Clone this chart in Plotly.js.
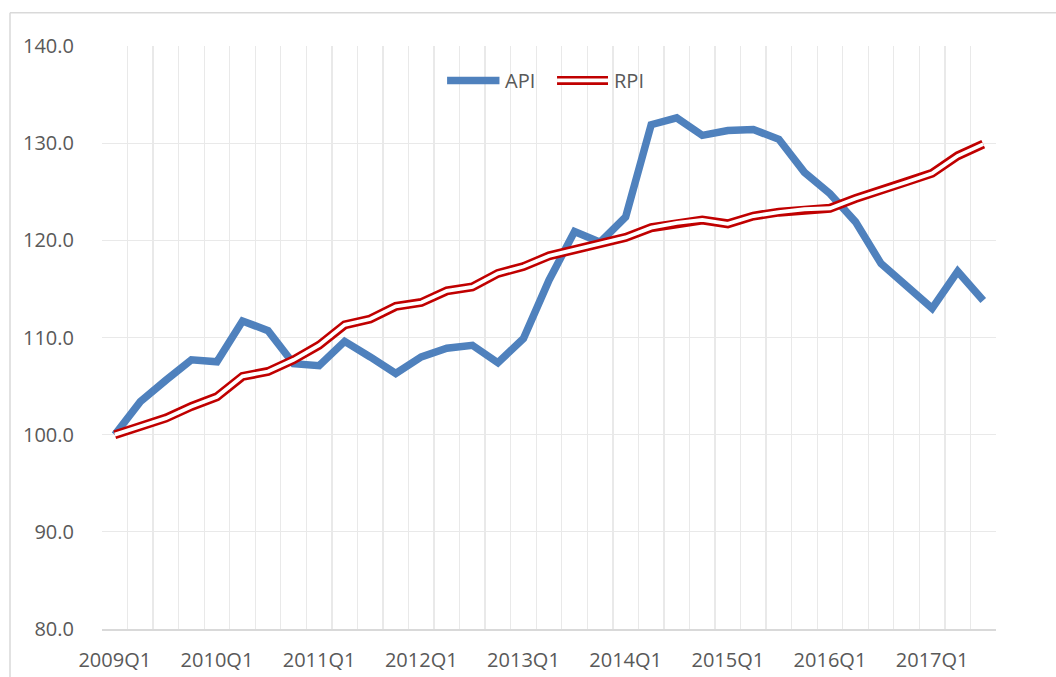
<!DOCTYPE html>
<html>
<head>
<meta charset="utf-8">
<script src="https://cdn.plot.ly/plotly-3.0.1.min.js"></script>
<style>
  html, body { margin: 0; padding: 0; background: #ffffff; }
  #chart { width: 1056px; height: 677px; }
</style>
</head>
<body>
<div id="chart"></div>
<script>
// ---- data ----
const quarters = [
  "2009Q1","2009Q2","2009Q3","2009Q4",
  "2010Q1","2010Q2","2010Q3","2010Q4",
  "2011Q1","2011Q2","2011Q3","2011Q4",
  "2012Q1","2012Q2","2012Q3","2012Q4",
  "2013Q1","2013Q2","2013Q3","2013Q4",
  "2014Q1","2014Q2","2014Q3","2014Q4",
  "2015Q1","2015Q2","2015Q3","2015Q4",
  "2016Q1","2016Q2","2016Q3","2016Q4",
  "2017Q1","2017Q2","2017Q3"
];
const api = [100.0, 103.4, 105.6, 107.7, 107.5, 111.7, 110.7, 107.3, 107.1, 109.6,
             108.0, 106.3, 108.0, 108.9, 109.2, 107.4, 109.9, 115.9, 120.9, 119.8,
             122.4, 131.9, 132.6, 130.8, 131.3, 131.4, 130.4, 127.0, 124.8, 121.9,
             117.6, 115.4, 113.0, 116.8, 113.8];
const rpi = [100.0, 100.8, 101.7, 102.9, 103.9, 106.0, 106.5, 107.7, 109.2, 111.3,
             111.9, 113.2, 113.6, 114.8, 115.2, 116.6, 117.3, 118.4, 119.0, 119.6,
             120.3, 121.3, 121.8, 122.1, 121.7, 122.5, 122.9, 123.2, 123.3, 124.3,
             125.1, 126.0, 126.9, 128.7, 129.9];
const seriesNames = ["API", "RPI"];
const yTicks = [80, 90, 100, 110, 120, 130, 140];

// ---- derived ----
const xIdx = quarters.map((q, i) => i);
const labelIdx = xIdx.filter(i => quarters[i].endsWith("Q1"));
const labelText = labelIdx.map(i => quarters[i]);

const BLUE = "#4F81BD", RED = "#C00000", TXT = "#595959";
const FONT = "Open Sans, Liberation Sans, sans-serif";
const RED_W = 9, GAP_W = 3.8;

const traces = [
  { x: xIdx, y: api, name: seriesNames[0], type: "scatter", mode: "lines",
    line: { color: BLUE, width: 7.5 }, showlegend: false },
  { x: xIdx, y: rpi, name: seriesNames[1], type: "scatter", mode: "lines",
    line: { color: RED, width: RED_W }, showlegend: false },
  { x: xIdx, y: rpi, name: seriesNames[1] + " (inner)", type: "scatter", mode: "lines",
    line: { color: "#ffffff", width: GAP_W }, showlegend: false, hoverinfo: "skip" }
];

// manual legend (paper coords)
const legY = 0.941;
const shapes = [
  // chart area border (left & top)
  { type: "line", xref: "paper", yref: "paper", x0: -0.1029, x1: -0.1029, y0: -0.2, y1: 1.057,
    line: { color: "#d9d9d9", width: 1.5 } },
  { type: "line", xref: "paper", yref: "paper", x0: -0.1029, x1: 1.2, y0: 1.057, y1: 1.057,
    line: { color: "#d9d9d9", width: 1.5 } },
  // legend symbols
  { type: "line", xref: "paper", yref: "paper", x0: 0.386, x1: 0.4446, y0: legY, y1: legY,
    line: { color: BLUE, width: 7.5 } },
  { type: "line", xref: "paper", yref: "paper", x0: 0.509, x1: 0.566, y0: legY, y1: legY,
    line: { color: RED, width: RED_W } },
  { type: "line", xref: "paper", yref: "paper", x0: 0.509, x1: 0.566, y0: legY, y1: legY,
    line: { color: "#ffffff", width: GAP_W } }
];
const annotations = [
  { xref: "paper", yref: "paper", x: 0.449, y: legY, xanchor: "left", yanchor: "middle",
    text: seriesNames[0], showarrow: false, font: { family: FONT, size: 20, color: TXT } },
  { xref: "paper", yref: "paper", x: 0.571, y: legY, xanchor: "left", yanchor: "middle",
    text: seriesNames[1], showarrow: false, font: { family: FONT, size: 20, color: TXT } }
];

const layout = {
  width: 1056, height: 677,
  margin: { l: 102, r: 60, t: 46, b: 48 },
  paper_bgcolor: "#ffffff", plot_bgcolor: "#ffffff",
  font: { family: FONT, size: 20, color: TXT },
  showlegend: false,
  xaxis: {
    type: "linear",
    range: [-0.5, quarters.length - 0.5],
    tickmode: "array", tickvals: labelIdx, ticktext: labelText,
    showgrid: false, zeroline: false,
    showline: true, linecolor: "#d9d9d9", linewidth: 1.5,
    ticks: "", ticklabelstandoff: 12,
    tickfont: { family: FONT, size: 20, color: TXT },
    minor: { tickmode: "linear", tick0: -0.5, dtick: 1, showgrid: true,
             gridcolor: "#e9e9e9", gridwidth: 1.3, ticks: "" }
  },
  yaxis: {
    range: [80, 140],
    tickmode: "array", tickvals: yTicks, ticktext: yTicks.map(v => v.toFixed(1)),
    showgrid: true, gridcolor: "#e9e9e9", gridwidth: 1.3,
    zeroline: false, showline: false, ticks: "", ticklabelstandoff: 27,
    tickfont: { family: FONT, size: 20, color: TXT }
  },
  shapes: shapes,
  annotations: annotations
};

Plotly.newPlot("chart", traces, layout, { displayModeBar: false, staticPlot: true });
</script>
</body>
</html>
